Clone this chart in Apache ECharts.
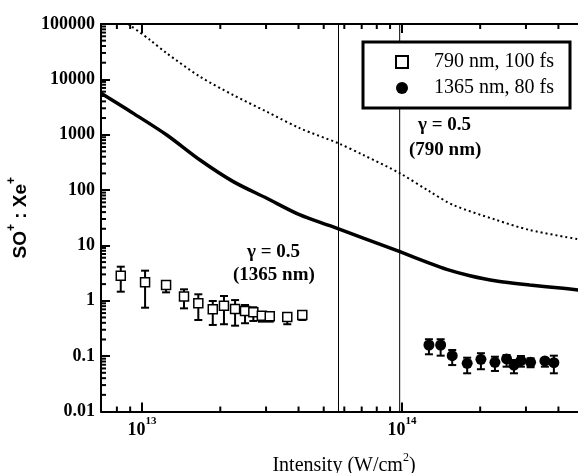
<!DOCTYPE html>
<html>
<head>
<meta charset="utf-8">
<script src="https://cdn.jsdelivr.net/npm/echarts@6/dist/echarts.min.js"></script>
<style>
  html, body { margin: 0; padding: 0; background: #fff; }
  #chart { width: 578px; height: 473px; }
</style>
</head>
<body>
<div id="chart"></div>
<script>
// Measured SO+ : Xe+ ratios, 790 nm / 100 fs pulses
const nir790Intensity = [8.28e12, 1.027e13, 1.237e13, 1.45e13, 1.646e13, 1.871e13, 2.066e13, 2.28e13, 2.49e13, 2.68e13, 2.89e13, 3.1e13, 3.62e13, 4.135e13];
const nir790Ratio     = [2.84, 2.16, 1.93, 1.19, 0.90, 0.70, 0.815, 0.71, 0.655, 0.62, 0.538, 0.525, 0.51, 0.555];
const nir790Low       = [1.46, 0.75, 1.42, 0.73, 0.45, 0.366, 0.377, 0.355, 0.393, 0.432, 0.42, 0.42, 0.377, 0.45];
const nir790High      = [4.13, 3.50, 2.28, 1.61, 1.31, 0.99, 1.22, 1.03, 0.84, 0.764, 0.62, 0.60, 0.595, 0.635];

// Measured SO+ : Xe+ ratios, 1365 nm / 80 fs pulses
const ir1365Intensity = [1.27e14, 1.409e14, 1.561e14, 1.782e14, 2.013e14, 2.279e14, 2.527e14, 2.697e14, 2.869e14, 3.126e14, 3.548e14, 3.842e14];
const ir1365Ratio     = [0.159, 0.159, 0.102, 0.0743, 0.0877, 0.0774, 0.089, 0.069, 0.0828, 0.0774, 0.0818, 0.0762];
const ir1365Low       = [0.108, 0.102, 0.069, 0.049, 0.058, 0.054, 0.0645, 0.049, 0.0645, 0.063, 0.0645, 0.049];
const ir1365High      = [0.202, 0.202, 0.129, 0.0938, 0.113, 0.0977, 0.105, 0.0853, 0.1007, 0.0914, 0.0914, 0.102];

// Calculated ratio curves (solid and dotted)
const solidCurveIntensity = [6.955e12, 9.26e12, 1.245e13, 1.671e13, 2.244e13, 3.02e13, 4.055e13, 5.28e13, 7.1e13, 9.82e13, 1.282e14, 1.486e14, 1.826e14, 2.31e14, 3.1e14, 4.17e14, 4.8e14];
const solidCurveRatio     = [5600, 2430, 989, 349, 142, 71, 35.5, 22.7, 13.5, 7.7, 4.75, 3.7, 2.84, 2.28, 1.93, 1.68, 1.56];
const dottedCurveIntensity = [8.85e12, 1.074e13, 1.245e13, 1.671e13, 2.244e13, 3.02e13, 4.055e13, 5.69e13, 7.1e13, 9.82e13, 1.282e14, 1.575e14, 2.31e14, 3.1e14, 4.8e14];
const dottedCurveRatio     = [100000, 51400, 29600, 11170, 5210, 2600, 1306, 700, 430, 201, 93.5, 53.8, 28.8, 19.0, 12.9];

// Keldysh parameter gamma = 0.5 intensities
const gammaIntensity = [5.7e13, 9.8e13];

// Axis ranges and tick values
const xRange = [6.95e12, 4.8e14];
const yRange = [0.01, 100000];
const yTickLabels = ['0.01', '0.1', '1', '10', '100', '1000', '10000', '100000'];
const xMinorTicks = [8e12, 9e12, 2e13, 3e13, 4e13, 5e13, 6e13, 7e13, 8e13, 9e13, 2e14, 3e14, 4e14];
const yMinorTicks = [];
[0.01, 0.1, 1, 10, 100, 1000, 10000].forEach(d => { for (let k = 2; k <= 9; k++) yMinorTicks.push(+(d * k).toPrecision(3)); });

const legendNames = ['790 nm, 100 fs', '1365 nm, 80 fs'];

const SERIF = '"Liberation Serif", "Times New Roman", serif';
const SANS = '"Liberation Sans", Arial, sans-serif';

const zip = (...cols) => cols[0].map((_, i) => cols.map(c => c[i]));

function errorBarItem(params, api) {
  const x = api.value(0);
  const lo = api.coord([x, api.value(1)]);
  const hi = api.coord([x, api.value(2)]);
  const cap = 4;
  const st = { stroke: '#000', lineWidth: 2 };
  return {
    type: 'group',
    children: [
      { type: 'line', shape: { x1: lo[0], y1: lo[1], x2: hi[0], y2: hi[1] }, style: st },
      { type: 'line', shape: { x1: lo[0] - cap, y1: lo[1], x2: lo[0] + cap, y2: lo[1] }, style: st },
      { type: 'line', shape: { x1: hi[0] - cap, y1: hi[1], x2: hi[0] + cap, y2: hi[1] }, style: st }
    ]
  };
}

function xMinorTickItem(params, api) {
  const v = api.value(0);
  const b = api.coord([v, yRange[0]]);
  const t = api.coord([v, yRange[1]]);
  const len = 5;
  const st = { stroke: '#000', lineWidth: 2 };
  return {
    type: 'group',
    children: [
      { type: 'line', shape: { x1: b[0], y1: b[1], x2: b[0], y2: b[1] - len }, style: st },
      { type: 'line', shape: { x1: t[0], y1: t[1], x2: t[0], y2: t[1] + len }, style: st }
    ]
  };
}

function yMinorTickItem(params, api) {
  const v = api.value(1);
  const p = api.coord([xRange[0], v]);
  return { type: 'line', shape: { x1: p[0], y1: p[1], x2: p[0] + 5, y2: p[1] }, style: { stroke: '#000', lineWidth: 2 } };
}

const expOf = v => Math.round(Math.log10(v));
const isDecade = v => Math.abs(Math.log10(v) - expOf(v)) < 1e-6;

const chart = echarts.init(document.getElementById('chart'), null, { renderer: 'canvas' });

const xAxisCommon = {
  type: 'log',
  logBase: 10,
  min: xRange[0],
  max: xRange[1],
  splitLine: { show: false },
  axisLine: { show: true, lineStyle: { color: '#000', width: 2 } },
  axisTick: { show: true, inside: true, length: 9, lineStyle: { color: '#000', width: 2 } },
  minorTick: { show: false }
};

chart.setOption({
  animation: false,
  backgroundColor: '#fff',
  grid: { left: 101, top: 24, width: 478, height: 387.5, containLabel: false, outerBoundsMode: 'none' },
  legend: {
    data: legendNames,
    orient: 'vertical',
    left: 363,
    top: 42,
    padding: [10, 16, 10, 32],
    itemGap: 6,
    itemWidth: 12,
    itemHeight: 12,
    borderColor: '#000',
    borderWidth: 3,
    borderRadius: 0,
    backgroundColor: '#fff',
    textStyle: { fontFamily: SERIF, fontSize: 20, color: '#000', lineHeight: 20, padding: [0, 0, 0, 21] }
  },
  xAxis: [
    Object.assign({}, xAxisCommon, {
      position: 'bottom',
      name: '{t|Intensity (W/cm}{s|2}{t|)}',
      nameLocation: 'middle',
      nameGap: 40,
      nameTextStyle: {
        padding: [0, 0, 0, 8],
        rich: {
          t: { fontFamily: SERIF, fontSize: 20, color: '#000', lineHeight: 24, verticalAlign: 'bottom' },
          s: { fontFamily: SERIF, fontSize: 12, color: '#000', lineHeight: 12, verticalAlign: 'top' }
        }
      },
      axisLabel: {
        show: true,
        margin: 4,
        showMinLabel: false,
        showMaxLabel: false,
        formatter: v => isDecade(v) ? '{b|10}{e|' + expOf(v) + '}' : '',
        rich: {
          b: { fontFamily: SERIF, fontWeight: 'bold', fontSize: 18, color: '#000', lineHeight: 24, verticalAlign: 'bottom' },
          e: { fontFamily: SERIF, fontWeight: 'bold', fontSize: 11, color: '#000', lineHeight: 11, verticalAlign: 'top' }
        }
      }
    }),
    Object.assign({}, xAxisCommon, {
      position: 'top',
      axisLabel: { show: false }
    })
  ],
  yAxis: {
    type: 'log',
    logBase: 10,
    min: yRange[0],
    max: yRange[1],
    splitNumber: 8,
    position: 'left',
    splitLine: { show: false },
    axisLine: { show: true, lineStyle: { color: '#000', width: 2 } },
    axisTick: { show: true, inside: true, length: 9, lineStyle: { color: '#000', width: 2 } },
    minorTick: { show: false },
    axisLabel: {
      margin: 6,
      fontFamily: SERIF,
      fontWeight: 'bold',
      fontSize: 18,
      color: '#000',
      formatter: v => yTickLabels[expOf(v) + 2] || ''
    },
    name: '{t|SO}{s|+}{t| : Xe}{s|+}',
    nameLocation: 'middle',
    nameGap: 68,
    nameRotate: 90,
    nameTextStyle: {
      rich: {
        t: { fontFamily: SANS, fontWeight: 'bold', fontSize: 19, color: '#000', lineHeight: 24, verticalAlign: 'bottom' },
        s: { fontFamily: SANS, fontWeight: 'bold', fontSize: 12, color: '#000', lineHeight: 12, verticalAlign: 'top' }
      }
    }
  },
  graphic: [
    { type: 'text', left: 418, top: 116, style: { text: 'γ = 0.5', font: 'bold 19px ' + SERIF, fill: '#000' } },
    { type: 'text', left: 409, top: 141, style: { text: '(790 nm)', font: 'bold 19px ' + SERIF, fill: '#000' } },
    { type: 'text', left: 247, top: 243, style: { text: 'γ = 0.5', font: 'bold 19px ' + SERIF, fill: '#000' } },
    { type: 'text', left: 233, top: 266, style: { text: '(1365 nm)', font: 'bold 19px ' + SERIF, fill: '#000' } }
  ],
  series: [
    {
      type: 'custom', name: 'xMinorTicks', renderItem: xMinorTickItem, silent: true, z: 1,
      data: xMinorTicks.map(v => [v, yRange[0]])
    },
    {
      type: 'custom', name: 'yMinorTicks', renderItem: yMinorTickItem, silent: true, z: 1,
      data: yMinorTicks.map(v => [xRange[0], v])
    },
    {
      type: 'line', name: 'gamma', silent: true, symbol: 'none', z: 2,
      data: [[gammaIntensity[0], yRange[0]], [gammaIntensity[0], yRange[1]]],
      lineStyle: { color: '#000', width: 1 }
    },
    {
      type: 'line', name: 'gamma2', silent: true, symbol: 'none', z: 2,
      data: [[gammaIntensity[1], yRange[0]], [gammaIntensity[1], yRange[1]]],
      lineStyle: { color: '#000', width: 1 }
    },
    {
      type: 'line', name: 'solidCurve', silent: true, symbol: 'none', smooth: 0.3, clip: true, z: 3,
      data: zip(solidCurveIntensity, solidCurveRatio),
      lineStyle: { color: '#000', width: 3.5 }
    },
    {
      type: 'line', name: 'dottedCurve', silent: true, symbol: 'none', smooth: 0.3, clip: true, z: 3,
      data: zip(dottedCurveIntensity, dottedCurveRatio),
      lineStyle: { color: '#000', width: 2, type: [2, 3] }
    },
    {
      type: 'custom', name: 'err790', renderItem: errorBarItem, silent: true, z: 4,
      data: zip(nir790Intensity, nir790Low, nir790High)
    },
    {
      type: 'custom', name: 'err1365', renderItem: errorBarItem, silent: true, z: 4,
      data: zip(ir1365Intensity, ir1365Low, ir1365High)
    },
    {
      type: 'scatter', name: legendNames[0], symbol: 'rect', symbolSize: 9, z: 5,
      data: zip(nir790Intensity, nir790Ratio),
      itemStyle: { color: '#fff', borderColor: '#000', borderWidth: 1.5, opacity: 1 }
    },
    {
      type: 'scatter', name: legendNames[1], symbol: 'circle', symbolSize: 11, z: 5,
      data: zip(ir1365Intensity, ir1365Ratio),
      itemStyle: { color: '#000', borderColor: '#000', borderWidth: 0, opacity: 1 }
    }
  ]
});
</script>
</body>
</html>
